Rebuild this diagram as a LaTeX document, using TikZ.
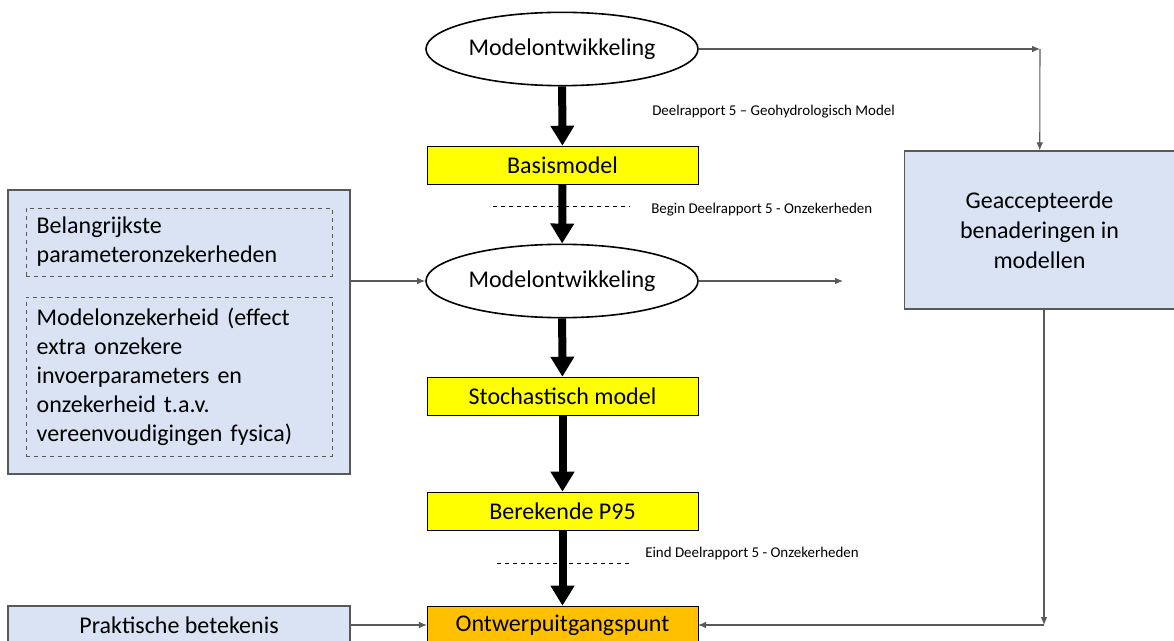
\documentclass[tikz,border=0pt]{standalone}
\usepackage{fontspec}
\setmainfont{Carlito}
\usetikzlibrary{shapes.geometric,arrows.meta}
\definecolor{geel}{HTML}{FFFF00}
\definecolor{oranje}{HTML}{FFC000}
\definecolor{lichtblauw}{HTML}{DAE3F3}
\definecolor{rand}{HTML}{595959}
\begin{document}
\begin{tikzpicture}[x=0.75pt,y=-0.75pt,
	ovaal/.style={ ellipse, draw, line width=1.2pt, fill=white, inner sep=0pt, minimum width=204pt, minimum height=55pt, font=\fontsize{18}{22}\selectfont },
	geelblok/.style={ rectangle, draw, thin, fill=geel, inner sep=0pt, minimum width=203pt, minimum height=28.5pt, font=\fontsize{18}{22}\selectfont },
	oranjeblok/.style={ geelblok, fill=oranje },
	blauwblok/.style={ rectangle, draw=rand, line width=0.9pt, fill=lichtblauw, inner sep=0pt, font=\fontsize{18}{22.5}\selectfont },
	binnenblok/.style={ rectangle, draw=rand, dashed, thin, inner sep=0pt, inner xsep=8pt, minimum width=229.5pt, text width=213.5pt, align=left, font=\fontsize{18}{21.75}\selectfont },
	notitie/.style={ anchor=west, inner sep=0pt, font=\fontsize{11.2}{13}\selectfont },
	dik/.style={ line width=6pt, -{Triangle[width=17pt,length=15pt]} },
	dun/.style={ rand, line width=0.8pt, -{Latex[length=6pt,width=5pt]} }
]
\useasboundingbox (0,0) rectangle (1174,641);
\clip (0,0) rectangle (1174,641);

% middenkolom
\node at (562,49) (ont1) [ovaal] {Modelontwikkeling};
\node at (562.5,165) (basis) [geelblok] {Basismodel};
\node at (562,281) (ont2) [ovaal] {Modelontwikkeling};
\node at (562.5,396) (stoch) [geelblok] {Stochastisch model};
\node at (562.5,511) (p95) [geelblok] {Berekende P95};
\node at (562.5,625) (ontwerp) [oranjeblok] {Ontwerpuitgangspunt};

% linkerkolom
\node at (179,332) (links) [blauwblok, minimum width=256.5pt, minimum height=213pt] {};
\node at (179,242) (param) [binnenblok, minimum height=51pt] {Belangrijkste\\parameteronzekerheden};
\node at (179,376.5) (modelonz) [binnenblok, minimum height=119.25pt] {Modelonzekerheid (effect\\extra onzekere\\invoerparameters en\\onzekerheid t.a.v.\\vereenvoudigingen fysica)};
\node at (179,625) (prakt) [blauwblok, minimum width=256.5pt, minimum height=28.5pt] {Praktische betekenis};

% rechterkolom
\node at (1039.5,230) (geacc) [blauwblok, minimum width=203pt, minimum height=118.5pt, align=center] {Geaccepteerde\\benaderingen in\\modellen};

% notities
\node at (652,112) (geohydro) [notitie] {Deelrapport 5 – Geohydrologisch Model};
\node at (651,210) (begin) [notitie] {Begin Deelrapport 5 - Onzekerheden};
\node at (645,554) (eind) [notitie] {Eind Deelrapport 5 - Onzekerheden};
\draw[dashed, thin] (493,206) -- (630,206);
\draw[dashed, thin] (497,563) -- (632,563);

% hoofdstroom
\draw[dik] (ont1) -- (basis);
\draw[dik] (basis) -- (ont2);
\draw[dik] (ont2) -- (stoch);
\draw[dik] (stoch) -- (p95);
\draw[dik] (p95) -- (ontwerp);

% zijstromen
\coordinate (hoek1) at (1040,49);
\coordinate (hoek2) at (1044,625);
\coordinate (uit) at (843,281);
\draw[dun] (ont1.east) -- (hoek1);
\draw[dun] (hoek1) -- (geacc);
\draw[dun] (geacc.south -| hoek2) -- (hoek2);
\draw[dun] (hoek2) -- (ontwerp.east);
\draw[dun] (links.east |- ont2) -- (ont2.west);
\draw[dun] (ont2.east) -- (uit);
\draw[dun] (prakt.east) -- (ontwerp.west);

\end{tikzpicture}
\end{document}
